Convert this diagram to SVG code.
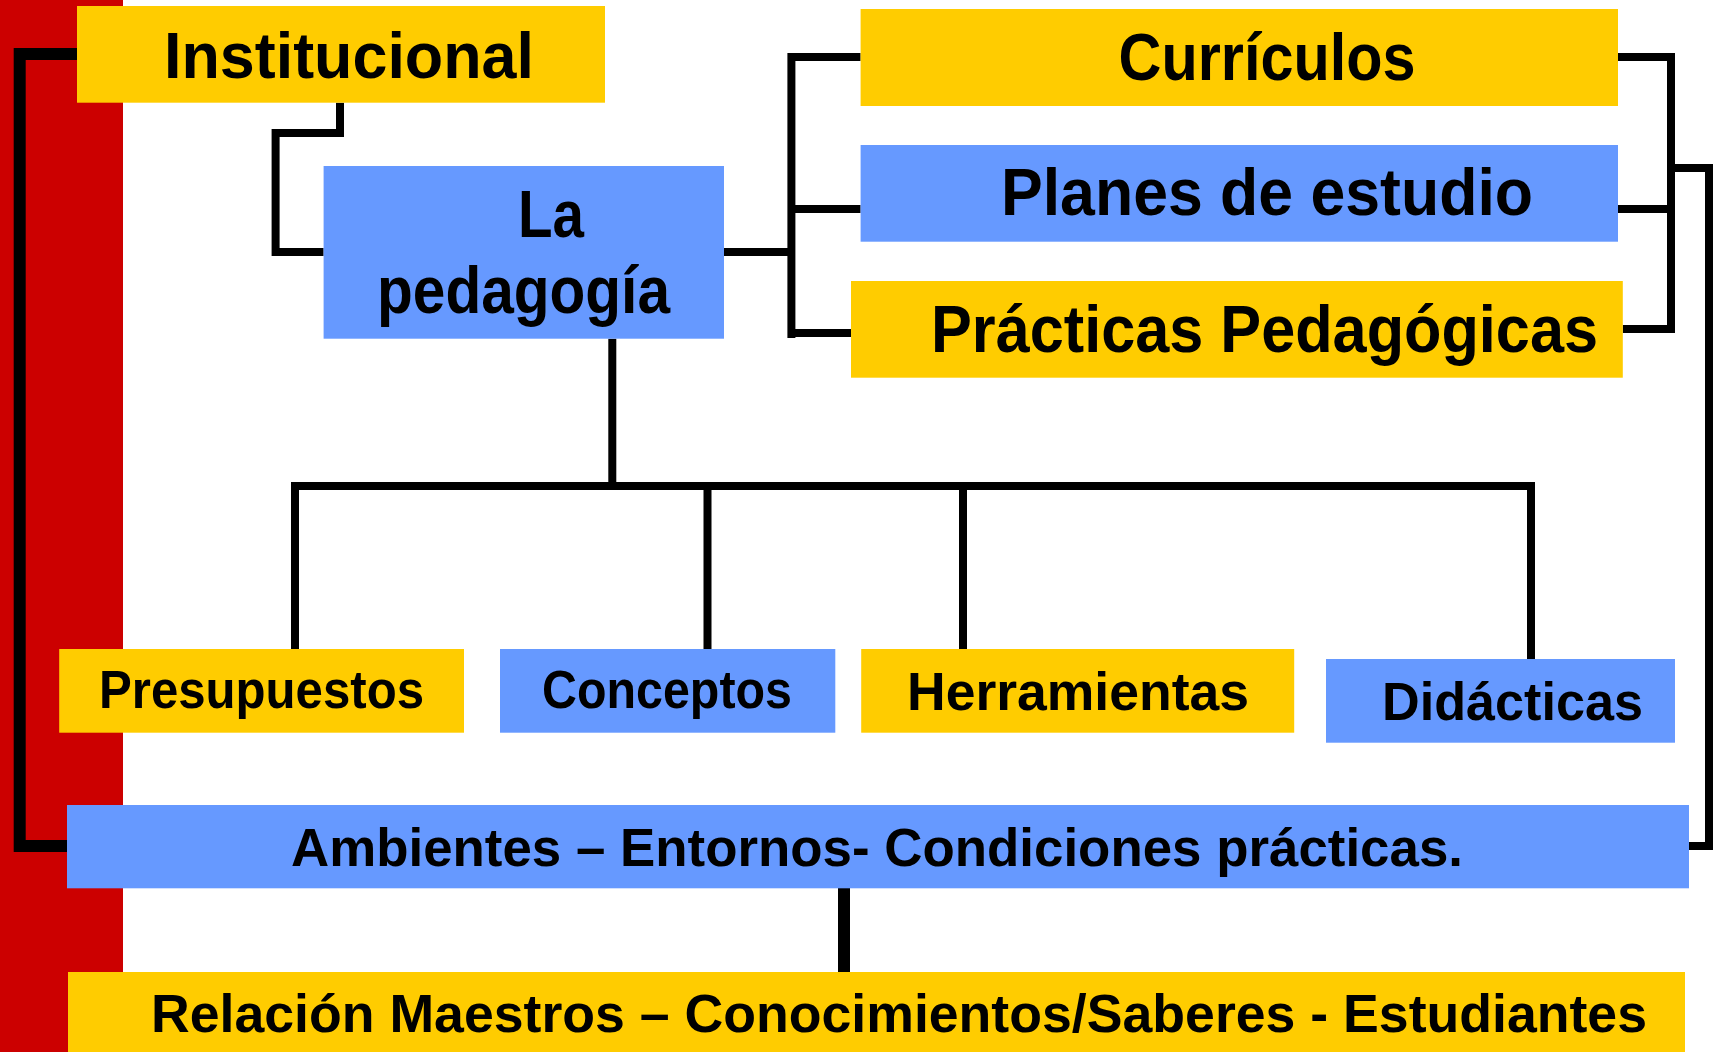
<svg xmlns="http://www.w3.org/2000/svg" width="1716" height="1052" viewBox="0 0 1716 1052">
<style>
.y{fill:#FFCC00}
.b{fill:#6699FF}
.c{fill:none;stroke:#000;stroke-width:8;stroke-linejoin:miter;stroke-linecap:butt}
.ck{fill:none;stroke:#000;stroke-width:12;stroke-linecap:butt}
.t{font-family:"Liberation Sans",Arial,sans-serif;font-weight:bold;fill:#000}
.big{font-size:66px}
.sm{font-size:54px}
.ar{font-family:"Liberation Sans",Arial,sans-serif;font-weight:bold;font-size:64px;fill:#000}
</style>
<rect x="0" y="0" width="1716" height="1052" fill="#fff"/>
<rect x="0" y="0" width="123" height="1052" fill="#CC0000"/>
<g id="connectors">
<path class="ck" d="M77,54 H19.7 V846 H67"/>
<path class="c" d="M340,102.7 V133 H275.6 V252 H323.6"/>
<path class="c" d="M724,252 H795"/>
<path class="c" d="M860.6,57 H791.4 V338"/>
<path class="c" d="M791.4,209 H860.6"/>
<path class="c" d="M795,333 H851"/>
<path class="c" d="M1618,57 H1671 V333"/>
<path class="c" d="M1618,209 H1671"/>
<path class="c" d="M1622.8,329 H1675"/>
<path class="c" d="M1667,168 H1709 V846 H1689"/>
<path class="c" d="M612.3,338.7 V486"/>
<path class="c" d="M295,649 V486 H1531 V659"/>
<path class="c" d="M707.5,486 V649"/>
<path class="c" d="M963,486 V649"/>
<path class="ck" d="M844,888 V972"/>
</g>
<g id="institucional">
<rect class="y" x="77" y="6" width="528" height="96.7"/>
<text class="ar" x="164" y="78" textLength="370" lengthAdjust="spacingAndGlyphs">Institucional</text>
</g>
<g id="pedagogia">
<rect class="b" x="323.6" y="166" width="400.4" height="172.7"/>
<text class="t big" x="518" y="237" textLength="66" lengthAdjust="spacingAndGlyphs">La</text>
<text class="t big" x="377" y="313" textLength="293" lengthAdjust="spacingAndGlyphs">pedagogía</text>
</g>
<g id="curriculos">
<rect class="y" x="860.6" y="9" width="757.4" height="97"/>
<text class="t big" x="1118.5" y="80" textLength="297" lengthAdjust="spacingAndGlyphs">Currículos</text>
</g>
<g id="planes">
<rect class="b" x="860.6" y="145" width="757.4" height="96.7"/>
<text class="t big" x="1001" y="215" textLength="532" lengthAdjust="spacingAndGlyphs">Planes de estudio</text>
</g>
<g id="practicas">
<rect class="y" x="851" y="281" width="771.8" height="96.7"/>
<text class="t big" x="931" y="352" textLength="667" lengthAdjust="spacingAndGlyphs">Prácticas Pedagógicas</text>
</g>
<g id="presupuestos">
<rect class="y" x="59.2" y="649" width="404.8" height="83.7"/>
<text class="t sm" x="99" y="708" textLength="325" lengthAdjust="spacingAndGlyphs">Presupuestos</text>
</g>
<g id="conceptos">
<rect class="b" x="500" y="649" width="335.3" height="83.7"/>
<text class="t sm" x="542" y="708" textLength="250" lengthAdjust="spacingAndGlyphs">Conceptos</text>
</g>
<g id="herramientas">
<rect class="y" x="861.2" y="649" width="433" height="83.7"/>
<text class="t sm" x="907" y="710" textLength="342" lengthAdjust="spacingAndGlyphs">Herramientas</text>
</g>
<g id="didacticas">
<rect class="b" x="1326" y="659" width="349" height="83.7"/>
<text class="t sm" x="1382" y="720" textLength="261" lengthAdjust="spacingAndGlyphs">Didácticas</text>
</g>
<g id="ambientes">
<rect class="b" x="67" y="805" width="1622" height="83.3"/>
<text class="t sm" x="291" y="866" textLength="1172" lengthAdjust="spacingAndGlyphs">Ambientes – Entornos- Condiciones prácticas.</text>
</g>
<g id="relacion">
<rect class="y" x="68" y="972" width="1617" height="80"/>
<text class="t sm" x="151" y="1032" textLength="1496" lengthAdjust="spacingAndGlyphs">Relación Maestros – Conocimientos/Saberes - Estudiantes</text>
</g>
</svg>
